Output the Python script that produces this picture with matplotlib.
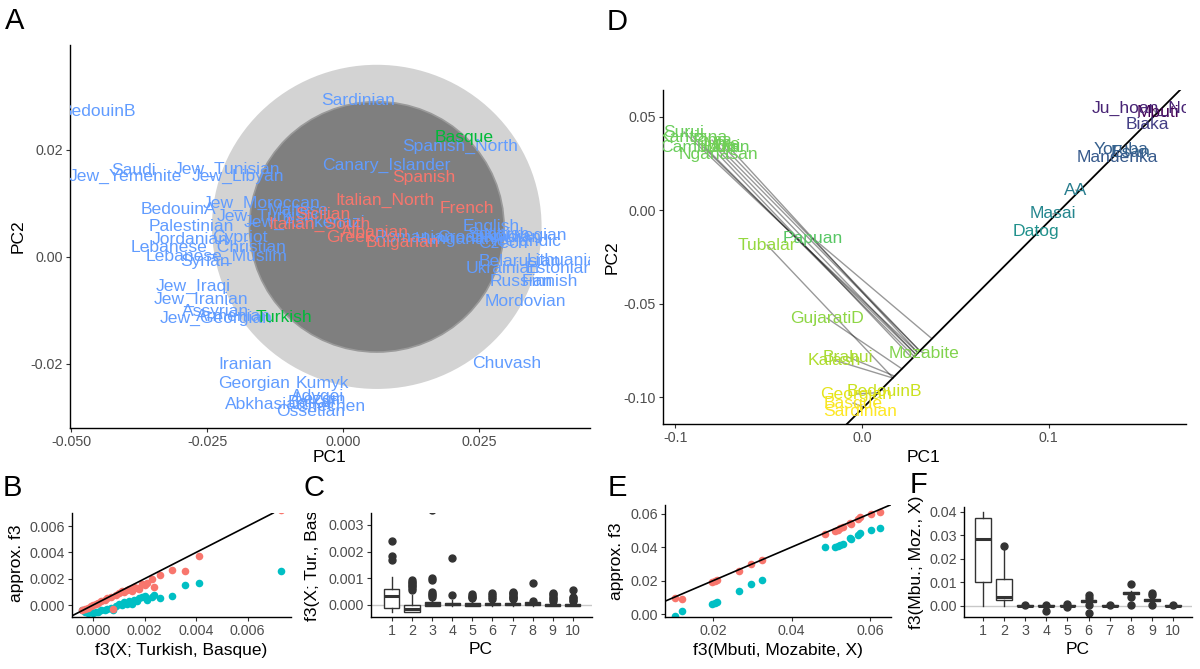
import matplotlib
matplotlib.use("Agg")
import matplotlib.pyplot as plt
from matplotlib.patches import Circle
from matplotlib.transforms import Bbox, TransformedBbox
from matplotlib import cm

plt.rcParams['font.family'] = ['Liberation Sans', 'DejaVu Sans']
plt.rcParams['axes.unicode_minus'] = False

# ---------------- data: panel A (PCA of West Eurasians) ----------------
a_names = ['BedouinB', 'Jew_Yemenite', 'Saudi', 'Jew_Tunisian', 'Jew_Libyan', 'BedouinA',
           'Jew_Moroccan', 'Palestinian', 'Jordanian', 'Cypriot', 'Lebanese_Christian',
           'Lebanese_Muslim', 'Syrian', 'Jew_Iraqi', 'Jew_Iranian', 'Assyrian', 'Jew_Georgian',
           'Armenian', 'Iranian', 'Georgian', 'Kumyk', 'Abkhasian', 'Adygei', 'Balkar', 'Lezgin',
           'Chechen', 'Ossetian', 'Sardinian', 'Spanish_North', 'Canary_Islander', 'Maltese',
           'Jew_Turkish', 'Jew_Ashkenazi', 'Romanian', 'Hungarian', 'Croatian', 'Czech', 'English',
           'Scottish', 'Orcadian', 'Norwegian', 'Icelandic', 'Lithuanian', 'Belarusian', 'Estonian',
           'Ukrainian', 'Russian', 'Finnish', 'Mordovian', 'Chuvash',
           'Spanish', 'Italian_North', 'French', 'Sicilian', 'Italian_South', 'Greek', 'Albanian',
           'Bulgarian', 'Basque', 'Turkish']
a_pc1 = [-0.0450, -0.0401, -0.0386, -0.0213, -0.0193, -0.0303, -0.0149, -0.0279, -0.0281, -0.0189,
         -0.0248, -0.0233, -0.0254, -0.0276, -0.0261, -0.0235, -0.0233, -0.0202, -0.0180, -0.0164,
         -0.0039, -0.0142, -0.0046, -0.0057, -0.0042, -0.0024, -0.0059, 0.0028, 0.0215, 0.0079,
         -0.0083, -0.0143, -0.0070, 0.0132, 0.0206, 0.0233, 0.0294, 0.0272, 0.0285, 0.0298, 0.0335,
         0.0338, 0.0412, 0.0325, 0.0399, 0.0294, 0.0327, 0.0381, 0.0335, 0.0300,
         0.0149, 0.0077, 0.0228, -0.0037, -0.0044, 0.0013, 0.0059, 0.0110, 0.0222, -0.0108]
a_pc2 = [0.0271, 0.0150, 0.0161, 0.0163, 0.0150, 0.0088, 0.0099, 0.0056, 0.0032, 0.0036,
         0.0017, 0.0000, -0.0009, -0.0056, -0.0080, -0.0103, -0.0116, -0.0112, -0.0202, -0.0236,
         -0.0236, -0.0277, -0.0262, -0.0273, -0.0267, -0.0280, -0.0290, 0.0293, 0.0206, 0.0170,
         0.0086, 0.0075, 0.0064, 0.0037, 0.0032, 0.0036, 0.0024, 0.0056, 0.0041, 0.0036, 0.0039,
         0.0028, -0.0006, -0.0009, -0.0021, -0.0022, -0.0047, -0.0047, -0.0084, -0.0200,
         0.0148, 0.0105, 0.0090, 0.0080, 0.0060, 0.0036, 0.0045, 0.0026, 0.0224, -0.0114]
a_group = ['other'] * 50 + ['target'] * 8 + ['ref'] * 2
a_circle_center = (0.0062, 0.0056)
a_circle_r_outer = 0.0303
a_circle_r_inner = 0.0234

# ---------------- data: panel B ----------------
b_f3 = [-0.00045, -0.0003, -0.0002, -0.0001, 0.0, 0.0001, 0.0002, 0.0003, 0.00045, 0.00055,
        0.0007, 0.00078, 0.0009, 0.001, 0.00112, 0.0012, 0.0013, 0.0014, 0.0015, 0.0016, 0.0017,
        0.0018, 0.0019, 0.002, 0.0021, 0.0023, 0.00235, 0.0026, 0.00306, 0.00357, 0.00413, 0.0073]
b_approx_all = [-0.0004, -0.0003, -0.0002, -0.0001, 0.0, 0.0001, 0.00015, 0.0003, 0.0004, 0.0005,
                0.00062, -0.00033, 0.0008, 0.00092, 0.0011, 0.001, 0.00118, 0.0012, 0.0011, 0.0014,
                0.0013, 0.0012, 0.0016, 0.0015, 0.0017, 0.0020, 0.0014, 0.0023, 0.0027, 0.0026,
                0.0037, 0.0072]
b_approx_few = [-0.0004, -0.0005, -0.0006, -0.0005, -0.0006, -0.0005, -0.0005, -0.0004, -0.0004,
                -0.0003, -0.0002, -0.0004, -0.0001, 0.0001, 0.0, 0.0002, 0.0001, 0.0003, 0.0001,
                0.0004, 0.0003, 0.0005, 0.0006, 0.0007, 0.0004, 0.0006, 0.0008, 0.0005, 0.0007,
                0.0015, 0.0017, 0.0026]

# ---------------- data: panel C (per-PC f3 contributions) ----------------
pcs = list(range(1, 11))
c_med = [0.00034, -0.00016, 0.00003, 0.00002, 0.00002, 0.00002, 0.00002, 0.00003, 0.0, 0.00001]
c_q1 = [-0.0001, -0.00027, -0.00002, -0.00001, -0.00002, -0.00001, 0.0, 0.0, -0.00003, -0.00002]
c_q3 = [0.0006, 0.0, 0.00012, 0.00008, 0.00007, 0.00008, 0.00008, 0.0001, 0.00004, 0.00005]
c_lo = [-0.00026, -0.00028, -0.00005, -0.00003, -0.00004, -0.00003, -0.00002, -0.00002, -0.00005, -0.00004]
c_hi = [0.00106, 0.00037, 0.00025, 0.0002, 0.00018, 0.0002, 0.0002, 0.00022, 0.00012, 0.00014]
c_out = [[0.0024, 0.00184, 0.00168],
         [0.00094, 0.00088, 0.00082, 0.00076, 0.0007, 0.00064, 0.00058],
         [0.00355, 0.001, 0.00094, 0.0005, 0.00042, 0.00036, 0.0003],
         [0.00175, 0.00036],
         [0.0004, 0.00035, 0.0003, 0.00026],
         [0.00045, 0.00038, 0.0003, 0.00024],
         [0.0005, 0.00045, 0.0004, 0.00035, 0.0003, 0.00026, 0.00022],
         [0.00082, 0.00015],
         [0.00045, 0.0004, 0.00034, 0.00028, 0.00022, 0.00016],
         [0.00056, 0.0003, 0.00025, 0.0002, 0.00015]]

# ---------------- data: panel D (PCA worldwide + projections) ----------------
d_names = ['Mbuti', 'Ju_hoan_North', 'Biaka', 'Yoruba', 'Esan', 'Mandenka', 'AA', 'Masai', 'Datog',
           'Karitiana', 'Surui', 'Pima', 'Mixe', 'Cambodian', 'Dai', 'Han', 'Nganasan', 'Papuan',
           'Tubalar', 'GujaratiD', 'Kalash', 'Brahui', 'Mozabite', 'BedouinB', 'Georgian',
           'Basque', 'Sardinian']
d_pc1 = [0.1587, 0.1555, 0.1528, 0.1389, 0.1442, 0.1367, 0.1147, 0.1024, 0.0933,
         -0.0906, -0.0954, -0.0804, -0.0751, -0.0842, -0.0718, -0.0783, -0.0772, -0.0263,
         -0.0509, -0.0188, -0.0150, -0.0075, 0.0332, 0.0118, -0.0032, -0.0048, -0.0011]
d_pc2 = [0.0524, 0.0545, 0.0460, 0.0326, 0.0310, 0.0283, 0.0107, -0.0021, -0.0112,
         0.0390, 0.0417, 0.0374, 0.0348, 0.0337, 0.0342, 0.0332, 0.0299, -0.0150,
         -0.0187, -0.0578, -0.0802, -0.0786, -0.0765, -0.0968, -0.0984, -0.1032, -0.1075]
d_proj = [0.159, 0.158, 0.153, 0.139, 0.141, 0.136, 0.116, 0.105, 0.095,
          0.029, 0.030, 0.031, 0.031, 0.028, 0.030, 0.029, 0.027, 0.0375,
          0.0166, 0.0214, 0.0165, 0.0175, 0.031, 0.0105, 0.0087, 0.001, 0.0]
d_shade = [0.0, 0.10, 0.18, 0.30, 0.31, 0.28, 0.42, 0.46, 0.50,
           0.78, 0.77, 0.78, 0.79, 0.77, 0.78, 0.79, 0.78, 0.74,
           0.84, 0.83, 0.88, 0.87, 0.81, 0.92, 0.96, 0.99, 1.0]
d_line_icpt = -0.1063
d_line_slope = 1.0

# ---------------- data: panel E ----------------
e_f3 = [0.0103, 0.0120, 0.0198, 0.0204, 0.0210, 0.0267, 0.0298, 0.0326, 0.0485, 0.0510,
        0.0518, 0.0524, 0.0530, 0.0548, 0.0552, 0.0568, 0.0574, 0.0601, 0.0626]
e_approx_all = [0.0098, 0.0092, 0.0190, 0.0198, 0.0205, 0.0258, 0.0298, 0.0322, 0.0478, 0.0498,
                0.0505, 0.0512, 0.0518, 0.0545, 0.0538, 0.0568, 0.0578, 0.0596, 0.0610]
e_approx_few = [-0.0008, 0.0022, 0.0060, 0.0068, 0.0074, 0.0138, 0.0178, 0.0205, 0.0402, 0.0398,
                0.0408, 0.0415, 0.0420, 0.0455, 0.0448, 0.0472, 0.0482, 0.0500, 0.0512]

# ---------------- data: panel F ----------------
f_med = [0.0284, 0.0040, 0.0, 0.0, 0.0, 0.0021, 0.0, 0.0055, 0.0025, 0.0]
f_q1 = [0.0103, 0.0027, -0.0002, -0.0002, -0.0002, 0.0017, -0.0002, 0.0050, 0.0021, -0.0002]
f_q3 = [0.0375, 0.0116, 0.0002, 0.0002, 0.0002, 0.0024, 0.0002, 0.0058, 0.0029, 0.0002]
f_lo = [0.0, 0.0, -0.0004, -0.0004, -0.0004, 0.0013, -0.0003, 0.0045, 0.0017, -0.0003]
f_hi = [0.0400, 0.0240, 0.0004, 0.0004, 0.0004, 0.0028, 0.0003, 0.0062, 0.0032, 0.0003]
f_out = [[], [0.0257], [0.0006], [-0.0022, 0.0006], [0.0008, -0.0004],
         [0.0045, 0.0032, 0.0003, -0.0028], [0.0004], [0.0093, 0.0036, 0.0002],
         [0.0057, 0.0045, 0.0003], [0.0003]]

# ---------------- styling ----------------
W, H = 1200, 669
BLUE, RED, GREEN, TEAL = '#619CFF', '#F8766D', '#00BA38', '#00BFC4'
group_col = {'other': BLUE, 'target': RED, 'ref': GREEN}
LABEL_FS = 12.6

fig = plt.figure(figsize=(12, 6.69), dpi=100)


def add_panel(l, t, r, b):
    ax = fig.add_axes([l / W, 1 - b / H, (r - l) / W, (b - t) / H])
    for s in ['top', 'right']:
        ax.spines[s].set_visible(False)
    for s in ['left', 'bottom']:
        ax.spines[s].set_linewidth(1.0)
        ax.spines[s].set_color('black')
    ax.tick_params(length=3, width=0.8, color='#333333', labelsize=10.3,
                   labelcolor='#4D4D4D', pad=2)
    ax.patch.set_alpha(0)
    return ax


def ftext(x, y, s, **kw):
    return fig.text(x / W, 1 - y / H, s, **kw)


def set_ticks(ax, xt, xl, yt, yl):
    if xt is not None:
        ax.set_xticks(xt)
        ax.set_xticklabels(xl)
    ax.set_yticks(yt)
    ax.set_yticklabels(yl)


def draw_boxes(ax, med, q1, q3, lo, hi, out):
    stats = []
    for i in range(len(med)):
        stats.append(dict(med=med[i], q1=q1[i], q3=q3[i], whislo=lo[i], whishi=hi[i],
                          fliers=out[i]))
    ax.bxp(stats, positions=pcs, widths=0.75, showcaps=False, patch_artist=True,
           boxprops=dict(facecolor='white', edgecolor='#333333', linewidth=1.0),
           medianprops=dict(color='#333333', linewidth=2.2),
           whiskerprops=dict(color='#333333', linewidth=1.0),
           flierprops=dict(marker='o', markerfacecolor='#333333', markeredgecolor='#333333',
                           markersize=5))
    ax.axhline(0, color='#C8C8C8', lw=1.0, zorder=0)
    ax.set_xticks(pcs)
    ax.set_xticklabels([str(p) for p in pcs])


# ---- panel A ----
axA = add_panel(70, 45, 590, 428)
axA.set_xlim(-0.0502, 0.0454)
axA.set_ylim(-0.0320, 0.0396)
axA.add_patch(Circle(a_circle_center, a_circle_r_outer, facecolor='#D3D3D3', edgecolor='none'))
axA.add_patch(Circle(a_circle_center, a_circle_r_inner, facecolor='#7F7F7F',
                     edgecolor='#9A9A9A', lw=1.2))
for name, x, y, g in zip(a_names, a_pc1, a_pc2, a_group):
    axA.text(x, y, name, color=group_col[g], fontsize=LABEL_FS, ha='center', va='center',
             clip_on=True)
set_ticks(axA, [-0.05, -0.025, 0.0, 0.025], ['-0.050', '-0.025', '0.000', '0.025'],
          [-0.02, 0.0, 0.02], ['-0.02', '0.00', '0.02'])
ftext(330, 458, 'PC1', fontsize=12.5, ha='center', va='center')
ftext(18, 236, 'PC2', fontsize=12.5, ha='center', va='center', rotation=90)

# ---- panel D ----
axD = add_panel(663, 90, 1186, 424)
axD.set_xlim(-0.1067, 0.1737)
axD.set_ylim(-0.1144, 0.0642)
for x, y, p in zip(d_pc1, d_pc2, d_proj):
    axD.plot([x, p], [y, d_line_icpt + d_line_slope * p], color='black', alpha=0.4, lw=1.0)
axD.axline((0, d_line_icpt), slope=d_line_slope, color='black', lw=1.3)
for name, x, y, v in zip(d_names, d_pc1, d_pc2, d_shade):
    axD.text(x, y, name, color=cm.viridis(v), fontsize=LABEL_FS, ha='center', va='center',
             clip_on=True)
set_ticks(axD, [-0.1, 0.0, 0.1], ['-0.1', '0.0', '0.1'],
          [-0.10, -0.05, 0.0, 0.05], ['-0.10', '-0.05', '0.00', '0.05'])
ftext(924, 457, 'PC1', fontsize=12.5, ha='center', va='center')
ftext(612, 257, 'PC2', fontsize=12.5, ha='center', va='center', rotation=90)

# ---- panel B ----
axB = add_panel(72, 513, 291, 617)
axB.set_xlim(-0.00082, 0.00769)
axB.set_ylim(-0.00091, 0.0070)
axB.scatter(b_f3, b_approx_few, s=30, color=TEAL, lw=0, zorder=2, clip_on=True)
axB.scatter(b_f3, b_approx_all, s=30, color=RED, lw=0, zorder=2, clip_on=True)
axB.axline((0, 0), slope=1, color='black', lw=1.2, zorder=3)
set_ticks(axB, [0.0, 0.002, 0.004, 0.006], ['0.000', '0.002', '0.004', '0.006'],
          [0.0, 0.002, 0.004, 0.006], ['0.000', '0.002', '0.004', '0.006'])
ftext(181, 650, 'f3(X; Turkish, Basque)', fontsize=12.5, ha='center', va='center')
ftext(17, 563, 'approx. f3', fontsize=12.5, ha='center', va='center', rotation=90)

# ---- panel C ----
axC = add_panel(371, 513, 592, 617)
draw_boxes(axC, c_med, c_q1, c_q3, c_lo, c_hi, c_out)
axC.set_xlim(-0.04, 10.95)
axC.set_ylim(-0.00045, 0.00345)
set_ticks(axC, None, None, [0.0, 0.001, 0.002, 0.003], ['0.000', '0.001', '0.002', '0.003'])
ftext(481, 650, 'PC', fontsize=12.5, ha='center', va='center')
lab = ftext(313, 621, 'f3(X; Tur., Basque)', fontsize=12.5, ha='center', va='bottom',
            rotation=90)
lab.set_clip_box(TransformedBbox(Bbox([[0, 0], [1, 1 - 513 / H]]), fig.transFigure))
lab.set_clip_on(True)

# ---- panel E ----
axE = add_panel(665, 505, 891, 617)
axE.set_xlim(0.0078, 0.0653)
axE.set_ylim(-0.0016, 0.0651)
axE.scatter(e_f3, e_approx_few, s=30, color=TEAL, lw=0, zorder=2)
axE.scatter(e_f3, e_approx_all, s=30, color=RED, lw=0, zorder=2)
axE.axline((0, 0), slope=1, color='black', lw=1.2, zorder=3)
set_ticks(axE, [0.02, 0.04, 0.06], ['0.02', '0.04', '0.06'],
          [0.0, 0.02, 0.04, 0.06], ['0.00', '0.02', '0.04', '0.06'])
ftext(778, 650, 'f3(Mbuti, Mozabite, X)', fontsize=12.5, ha='center', va='center')
ftext(617, 561, 'approx. f3', fontsize=12.5, ha='center', va='center', rotation=90)

# ---- panel F ----
axF = add_panel(964, 507, 1192, 617)
draw_boxes(axF, f_med, f_q1, f_q3, f_lo, f_hi, f_out)
axF.set_xlim(0.1, 10.9)
axF.set_ylim(-0.0047, 0.0421)
set_ticks(axF, None, None, [0.0, 0.01, 0.02, 0.03, 0.04],
          ['0.00', '0.01', '0.02', '0.03', '0.04'])
ftext(1078, 650, 'PC', fontsize=12.5, ha='center', va='center')
ftext(917, 562, 'f3(Mbu.; Moz., X)', fontsize=12.5, ha='center', va='center', rotation=90)

# panel letters
for letter, x, y in [('A', 15, 21), ('D', 617, 22), ('B', 12, 488), ('C', 314, 488),
                     ('E', 617, 488), ('F', 919, 485)]:
    ftext(x, y, letter, fontsize=21, ha='center', va='center')

fig.savefig('out.png', dpi=100)
